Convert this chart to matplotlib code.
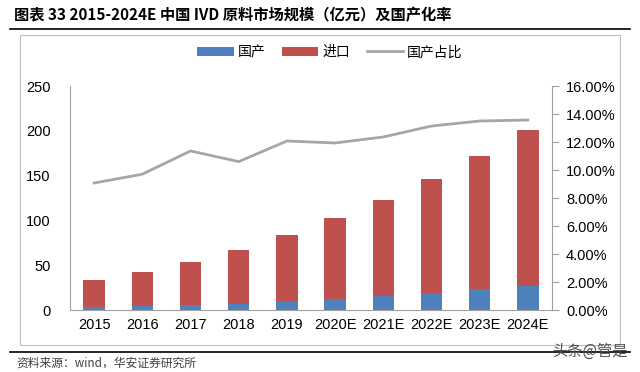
import numpy as np
import matplotlib.pyplot as plt
from matplotlib.patches import Rectangle
from matplotlib.ticker import FuncFormatter

plt.rcParams['font.family'] = ['Liberation Sans', 'Noto Sans CJK SC', 'DejaVu Sans']

years = ['2015', '2016', '2017', '2018', '2019', '2020E', '2021E', '2022E', '2023E', '2024E']
total = [33.5, 42.4, 53.6, 67.0, 83.7, 102.7, 122.8, 146.0, 171.9, 200.9]
ratio = [9.07, 9.70, 11.36, 10.60, 12.07, 11.93, 12.36, 13.14, 13.50, 13.57]  # %
domestic = [round(t * r / 100, 1) for t, r in zip(total, ratio)]
imported = [round(t - d, 1) for t, d in zip(total, domestic)]

blue, red, grey = '#4F81BD', '#C0504D', '#A6A6A6'
cjk = ['Noto Sans CJK SC', 'DejaVu Sans']

fig = plt.figure(figsize=(6.4, 3.72), dpi=100)
ax = fig.add_axes([70 / 640, 1 - 310 / 372, (552 - 70) / 640, (310 - 86) / 372])
ax2 = ax.twinx()

x = np.arange(len(years))
w = 0.44
ax.bar(x, domestic, w, color=blue, label='国产', zorder=2)
ax.bar(x, imported, w, bottom=domestic, color=red, label='进口', zorder=2)
ax2.plot(x, ratio, color=grey, lw=2, label='国产占比', zorder=3)

ax.set_xlim(-0.5, len(years) - 0.5)
ax.set_ylim(0, 250)
ax.set_yticks(range(0, 251, 50))
ax2.set_ylim(0, 16)
ax2.set_yticks(range(0, 17, 2))
ax2.yaxis.set_major_formatter(FuncFormatter(lambda v, p: f'{v:.2f}%'))
ax.set_xticks(x)
ax.set_xticklabels(years)

for a in (ax, ax2):
    for s in a.spines.values():
        s.set_visible(False)
ax.spines['left'].set_visible(True)
ax.spines['left'].set_color('#A0A0A0')
ax.spines['bottom'].set_visible(True)
ax.spines['bottom'].set_color('#A0A0A0')
ax2.spines['right'].set_visible(True)
ax2.spines['right'].set_color('#A0A0A0')
ax.tick_params(axis='y', length=0, labelsize=10.5, pad=14)
ax.tick_params(axis='x', length=0, labelsize=10.5, pad=6)
ax2.tick_params(axis='y', length=5, color='#A0A0A0', labelsize=10.5, pad=5)

# legend
h1, l1 = ax.get_legend_handles_labels()
h2, l2 = ax2.get_legend_handles_labels()
fig.legend(h1 + h2, l1 + l2, loc='center', bbox_to_anchor=(330 / 640, 1 - 52 / 372),
           ncol=3, frameon=False, prop={'family': cjk, 'size': 10},
           handlelength=2.6, handleheight=0.6, columnspacing=1.2, handletextpad=0.3)

# frame around chart
fig.patches.append(Rectangle((20 / 640, 1 - 345 / 372), 600 / 640, 310 / 372,
                             transform=fig.transFigure, fill=False, ec='#BFBFBF', lw=0.8))
fig.add_artist(plt.Line2D([10 / 640, 630 / 640], [1 - 29 / 372] * 2, color='black', lw=1.2,
                          transform=fig.transFigure))
fig.add_artist(plt.Line2D([10 / 640, 630 / 640], [1 - 352 / 372] * 2, color='black', lw=1.2,
                          transform=fig.transFigure))

fig.text(14 / 640, 1 - 15 / 372, '图表 33 2015-2024E 中国 IVD 原料市场规模（亿元）及国产化率',
         family=cjk, fontsize=11, fontweight='bold', va='center', ha='left')
fig.text(16 / 640, 1 - 363 / 372, '资料来源：wind，华安证券研究所',
         family=cjk, fontsize=8.5, color='#404040', va='center', ha='left')
fig.text(628 / 640, 1 - 351 / 372, '头条@管是', family=cjk, fontsize=11,
         color='#505050', va='center', ha='right')

fig.savefig('out.png', dpi=100)
